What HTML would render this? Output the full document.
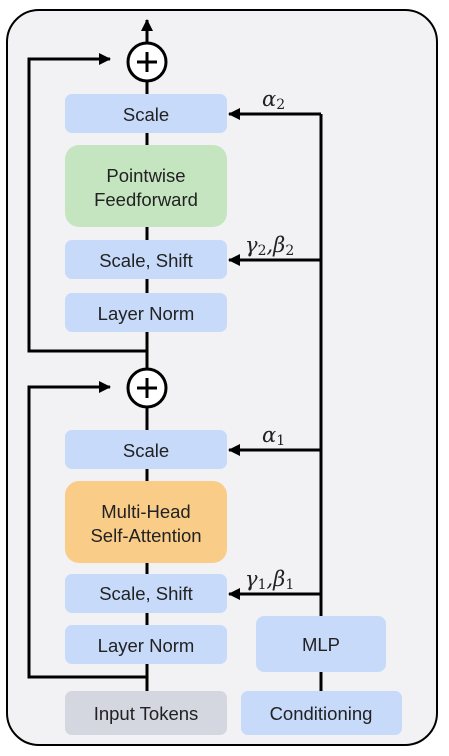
<!DOCTYPE html>
<html><head><meta charset="utf-8"><style>
html,body{margin:0;padding:0;background:#fff;width:449px;height:756px;overflow:hidden}
svg{display:block}
text{font-family:"Liberation Sans",Arial,sans-serif;font-size:18.5px;fill:#222}
.m{font-family:"DejaVu Serif","Liberation Serif",serif;font-style:italic;font-size:21px}
.s{font-size:14px;font-style:normal}
</style></head><body>
<svg width="449" height="756" viewBox="0 0 449 756">
<defs><marker id="ah2" markerWidth="12" markerHeight="12" refX="11" refY="6" orient="auto" markerUnits="userSpaceOnUse"><path d="M0,0 L12,6 L0,12 Z" fill="#000"/></marker></defs>
<rect x="7" y="10" width="430" height="735" rx="32" fill="#f2f2f5" stroke="#000" stroke-width="2"/>
<g stroke="#000" stroke-width="3" fill="none">
<line x1="147" y1="43" x2="147" y2="20" marker-end="url(#ah2)"/>
<line x1="147" y1="81" x2="147" y2="369"/>
<line x1="147" y1="407" x2="147" y2="691"/>
<polyline points="147,351 29,351 29,59 110,59" marker-end="url(#ah2)"/>
<polyline points="147,677 29,677 29,387 110,387" marker-end="url(#ah2)"/>
<line x1="321" y1="114" x2="321" y2="616"/>
<line x1="321" y1="672" x2="321" y2="691"/>
<line x1="321" y1="114" x2="229" y2="114" marker-end="url(#ah2)"/>
<line x1="321" y1="260" x2="229" y2="260" marker-end="url(#ah2)"/>
<line x1="321" y1="450" x2="229" y2="450" marker-end="url(#ah2)"/>
<line x1="321" y1="594" x2="229" y2="594" marker-end="url(#ah2)"/>
</g>
<g><circle cx="147" cy="62" r="19" fill="#fff" stroke="#000" stroke-width="3"/><path d="M137,62 H157 M147,52 V72" stroke="#000" stroke-width="3"/></g>
<g><circle cx="147" cy="388" r="19" fill="#fff" stroke="#000" stroke-width="3"/><path d="M137,388 H157 M147,378 V398" stroke="#000" stroke-width="3"/></g>
<g text-anchor="middle">
<g><rect x="65" y="94" width="162" height="39" rx="7" fill="#c7dafa"/><text x="146" y="121">Scale</text></g>
<g><rect x="65" y="145" width="162" height="82" rx="14" fill="#c5e5c0"/><text x="146" y="182">Pointwise</text><text x="146" y="206">Feedforward</text></g>
<g><rect x="65" y="240" width="162" height="39" rx="7" fill="#c7dafa"/><text x="146" y="267">Scale, Shift</text></g>
<g><rect x="65" y="293" width="162" height="39" rx="7" fill="#c7dafa"/><text x="146" y="320">Layer Norm</text></g>
<g><rect x="65" y="430" width="162" height="39" rx="7" fill="#c7dafa"/><text x="146" y="457">Scale</text></g>
<g><rect x="65" y="481" width="162" height="82" rx="14" fill="#f9cd88"/><text x="146" y="518">Multi-Head</text><text x="146" y="542">Self-Attention</text></g>
<g><rect x="65" y="574" width="162" height="39" rx="7" fill="#c7dafa"/><text x="146" y="600">Scale, Shift</text></g>
<g><rect x="65" y="625" width="162" height="39" rx="7" fill="#c7dafa"/><text x="146" y="652">Layer Norm</text></g>
<g><rect x="65" y="691" width="162" height="44" rx="7" fill="#d4d7e0"/><text x="146" y="720">Input Tokens</text></g>
<g><rect x="256" y="616" width="130" height="56" rx="8" fill="#c7dafa"/><text x="321" y="651">MLP</text></g>
<g><rect x="241" y="691" width="161" height="44" rx="7" fill="#c7dafa"/><text x="321" y="720">Conditioning</text></g>
</g>
<text class="m" x="262" y="106">α<tspan class="s" dy="3">2</tspan></text>
<text class="m" x="245" y="252">γ<tspan class="s" dy="3">2</tspan><tspan dy="-3">,β</tspan><tspan class="s" dy="3">2</tspan></text>
<text class="m" x="262" y="442">α<tspan class="s" dy="3">1</tspan></text>
<text class="m" x="245" y="586">γ<tspan class="s" dy="3">1</tspan><tspan dy="-3">,β</tspan><tspan class="s" dy="3">1</tspan></text>
</svg>
</body></html>
